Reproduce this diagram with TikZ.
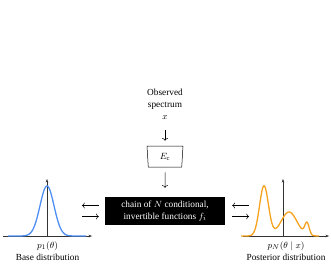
\documentclass[tikz,border=0pt]{standalone}
\usepackage{fontspec}
\setmainfont{Liberation Serif}
\usepackage{amsmath}
\usetikzlibrary{shapes.geometric}
\usetikzlibrary{arrows.meta}
\usetikzlibrary{positioning}
\definecolor{baseblue}{HTML}{4F8FF2}
\definecolor{postorange}{HTML}{F6A21E}
\tikzstyle{txt} = [font=\fontsize{9.3}{12}\selectfont, align=center, inner sep=0pt]
\tikzstyle{flow} = [line width=0.5pt, black]
\tikzstyle{axis} = [-{Stealth[length=3.5pt,width=2.6pt]}, black!80, line width=0.5pt]
\tikzstyle{chainbox} = [txt, rectangle, fill=black, text=white, minimum width=120pt, minimum height=28pt]
\tikzstyle{encoder} = [txt, trapezium, draw=black, line width=0.5pt, shape border rotate=180, trapezium left angle=80, trapezium right angle=80, trapezium stretches body, minimum width=36pt, minimum height=21pt]
\tikzstyle{basecurve} = [baseblue, line width=1.3pt, line join=round]
\tikzstyle{postcurve} = [postorange, line width=1.3pt, line join=round]

\begin{document}
\begin{tikzpicture}[x=1pt, y=1pt]
\useasboundingbox (0,0) rectangle (331,266);

% Input: observed spectrum, then the encoder
\node[txt] (obs) at (165,167) {Observed\\spectrum};
\node[txt] (xin) at (165,148.5) {$x$};
\node[encoder] (enc) at (165,109.5) {$E_{\mathrm{c}}$};
% Flow block
\node[chainbox] (box) at (165,55) {chain of $N$ conditional,\\invertible functions $f_i$};
\draw[flow, ->, shorten <=10pt, shorten >=5pt] (xin) -- (enc);
\draw[flow, ->, shorten <=5pt, shorten >=9pt] (enc) -- (box);

% Base distribution (left)
\coordinate (o1) at (47,30);
\draw[axis] (3,30) -- (92,30);
\draw[axis] (o1) -- (47,87);
\draw[basecurve] plot[domain=8:86, samples=120] (\x, {30+50*exp(-((\x-47)^2)/98)});
\node[txt] (p1) at (47.5,20) {$p_1(\theta)$};
\node[txt] (base) at (47.5,9) {Base distribution};

% Posterior distribution (right)
\coordinate (oN) at (283,30);
\draw[axis] (243,30) -- (329,30);
\draw[axis] (oN) -- (283,87);
\draw[postcurve] plot[domain=241:319, samples=200] (\x, {30+50*exp(-((\x-264)^2)/40)+24*exp(-((\x-289)^2)/128)+12*exp(-((\x-307)^2)/9.7)});
\node[txt] (pN) at (286,20) {$p_N(\theta\mid x)$};
\node[txt] (post) at (286,9) {Posterior distribution};

% Arrows between the distributions and the flow block
\coordinate (bL) at (82,55);
\coordinate (bR) at (249,55);
\draw[flow, <-, shorten >=6pt] ([yshift=5.5pt]bL) -- ([yshift=5.5pt]box.west);
\draw[flow, ->, shorten >=6pt] ([yshift=-5.5pt]bL) -- ([yshift=-5.5pt]box.west);
\draw[flow, ->, shorten >=7pt] ([yshift=5.5pt]bR) -- ([yshift=5.5pt]box.east);
\draw[flow, <-, shorten >=7pt] ([yshift=-5.5pt]bR) -- ([yshift=-5.5pt]box.east);
\end{tikzpicture}
\end{document}
